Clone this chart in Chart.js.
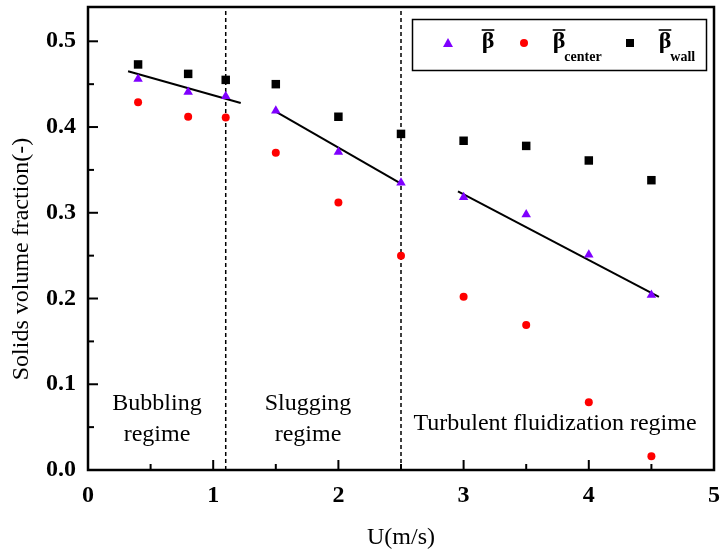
<!DOCTYPE html>
<html>
<head>
<meta charset="utf-8">
<script src="https://cdn.jsdelivr.net/npm/chart.js@4/dist/chart.umd.min.js"></script>
<style>
  html, body { margin: 0; padding: 0; background: #fff; }
</style>
</head>
<body>
<canvas id="chart" width="725" height="557"></canvas>
<script>
// superficial gas velocity U (m/s)
const velocity = [0.4, 0.8, 1.1, 1.5, 2.0, 2.5, 3.0, 3.5, 4.0, 4.5];
// cross-section averaged solids fraction
const betaMean = [0.456, 0.441, 0.436, 0.419, 0.371, 0.335, 0.318, 0.298, 0.251, 0.204];
const betaCenter = [0.429, 0.412, 0.411, 0.370, 0.312, 0.250, 0.202, 0.169, 0.079, 0.016];
const betaWall = [0.473, 0.462, 0.455, 0.450, 0.412, 0.392, 0.384, 0.378, 0.361, 0.338];

// linear fits per regime (end points)
const fitBubblingX = [0.32, 1.22];
const fitBubblingY = [0.465, 0.428];
const fitSluggingX = [1.5, 2.5];
const fitSluggingY = [0.418, 0.334];
const fitTurbulentX = [2.955, 4.56];
const fitTurbulentY = [0.325, 0.202];

// regime boundaries
const boundaryX = [1.1, 2.5];

const xTicks = [0, 1, 2, 3, 4, 5];
const yTicks = [0.0, 0.1, 0.2, 0.3, 0.4, 0.5];

const SERIF = "'Liberation Serif', 'Times New Roman', serif";

function pts(xs, ys) {
  return xs.map((x, i) => ({ x: x, y: ys[i] }));
}

function fitLine(xs, ys) {
  return {
    type: "line",
    data: pts(xs, ys),
    borderColor: "#000",
    borderWidth: 2,
    pointRadius: 0,
    fill: false,
    showLine: true,
  };
}

function boundaryLine(x) {
  return {
    type: "line",
    data: [{ x: x, y: 0 }, { x: x, y: 0.54 }],
    borderColor: "#000",
    borderWidth: 1.5,
    borderDash: [4, 3],
    pointRadius: 0,
    fill: false,
    showLine: true,
  };
}

// inward ticks, frame, y title, regime labels and the legend
const decorPlugin = {
  id: "decor",
  afterDraw(chart) {
    const ctx = chart.ctx;
    const { left, right, top, bottom } = chart.chartArea;
    const xs = chart.scales.x;
    const ys = chart.scales.y;
    ctx.save();

    // ticks
    ctx.strokeStyle = "#000";
    ctx.lineWidth = 2;
    for (let i = 0; i <= 10; i++) {
      const v = i * 0.5;
      const px = xs.getPixelForValue(v);
      const len = i % 2 === 0 ? 10 : 6;
      ctx.beginPath();
      ctx.moveTo(px, bottom);
      ctx.lineTo(px, bottom - len);
      ctx.stroke();
    }
    for (let i = 0; i <= 10; i++) {
      const v = i * 0.05;
      const py = ys.getPixelForValue(v);
      const len = i % 2 === 0 ? 10 : 6;
      ctx.beginPath();
      ctx.moveTo(left, py);
      ctx.lineTo(left + len, py);
      ctx.stroke();
    }

    // frame
    ctx.lineWidth = 2.5;
    ctx.strokeRect(left, top, right - left, bottom - top);

    // y axis title
    ctx.fillStyle = "#000";
    ctx.save();
    ctx.translate(22, 259);
    ctx.rotate(-Math.PI / 2);
    ctx.font = "24px " + SERIF;
    ctx.textAlign = "center";
    ctx.textBaseline = "middle";
    ctx.fillText("Solids volume fraction(-)", 0, 0);
    ctx.restore();

    // regime labels
    ctx.font = "24px " + SERIF;
    ctx.textAlign = "center";
    ctx.textBaseline = "alphabetic";
    ctx.fillText("Bubbling", 157, 410);
    ctx.fillText("regime", 157, 441);
    ctx.fillText("Slugging", 308, 410);
    ctx.fillText("regime", 308, 441);
    ctx.fillText("Turbulent fluidization regime", 555, 430);

    // legend
    ctx.lineWidth = 1.5;
    ctx.strokeRect(412.5, 19.5, 294, 51);
    const my = 43;
    // triangle
    ctx.fillStyle = "#7f00ff";
    ctx.beginPath();
    ctx.moveTo(448, my - 5);
    ctx.lineTo(453, my + 4);
    ctx.lineTo(443, my + 4);
    ctx.closePath();
    ctx.fill();
    // circle
    ctx.fillStyle = "#ff0000";
    ctx.beginPath();
    ctx.arc(524, my, 4, 0, Math.PI * 2);
    ctx.fill();
    // square
    ctx.fillStyle = "#000";
    ctx.fillRect(626, my - 4, 8, 8);

    function betaBar(cx, sub) {
      ctx.fillStyle = "#000";
      ctx.font = "bold 24px " + SERIF;
      ctx.textAlign = "center";
      ctx.textBaseline = "alphabetic";
      ctx.fillText("\u03b2", cx, 48);
      const w = ctx.measureText("\u03b2").width;
      ctx.lineWidth = 1.6;
      ctx.beginPath();
      ctx.moveTo(cx - w / 2, 30);
      ctx.lineTo(cx + w / 2, 30);
      ctx.stroke();
      if (sub) {
        ctx.font = "bold 14px " + SERIF;
        ctx.textAlign = "left";
        ctx.fillText(sub, cx + w / 2 - 1, 61);
      }
    }
    betaBar(488, null);
    betaBar(559, "center");
    betaBar(665, "wall");

    ctx.restore();
  },
};

new Chart(document.getElementById("chart"), {
  type: "scatter",
  data: {
    datasets: [
      {
        label: "beta",
        data: pts(velocity, betaMean),
        pointStyle: "triangle",
        pointRadius: 5.5,
        backgroundColor: "#7f00ff",
        borderColor: "#7f00ff",
        borderWidth: 0,
      },
      {
        label: "beta center",
        data: pts(velocity, betaCenter),
        pointStyle: "circle",
        pointRadius: 4,
        backgroundColor: "#ff0000",
        borderColor: "#ff0000",
        borderWidth: 0,
      },
      {
        label: "beta wall",
        data: pts(velocity, betaWall),
        pointStyle: "rect",
        pointRadius: 6,
        backgroundColor: "#000",
        borderColor: "#000",
        borderWidth: 0,
      },
      fitLine(fitBubblingX, fitBubblingY),
      fitLine(fitSluggingX, fitSluggingY),
      fitLine(fitTurbulentX, fitTurbulentY),
      boundaryLine(boundaryX[0]),
      boundaryLine(boundaryX[1]),
    ],
  },
  options: {
    responsive: false,
    animation: false,
    layout: { padding: { top: 7, right: 11, left: 0, bottom: 0 } },
    plugins: {
      legend: { display: false },
      tooltip: { enabled: false },
    },
    scales: {
      x: {
        type: "linear",
        min: 0,
        max: 5,
        afterBuildTicks: (scale) => {
          scale.ticks = xTicks.map((v) => ({ value: v }));
        },
        afterFit: (scale) => {
          scale.height = 87;
          scale.paddingLeft = 0;
          scale.paddingRight = 0;
        },
        grid: { display: false },
        border: { display: false },
        ticks: {
          color: "#000",
          padding: 3,
          font: { family: SERIF, size: 24, weight: "bold" },
          callback: (v) => String(v),
        },
        title: {
          display: true,
          text: "U(m/s)",
          color: "#000",
          padding: { bottom: 5 },
          font: { family: SERIF, size: 24 },
        },
      },
      y: {
        type: "linear",
        min: 0,
        max: 0.54,
        afterBuildTicks: (scale) => {
          scale.ticks = yTicks.map((v) => ({ value: v }));
        },
        afterFit: (scale) => {
          scale.width = 88;
          scale.paddingTop = 0;
          scale.paddingBottom = 0;
        },
        grid: { display: false },
        border: { display: false },
        ticks: {
          color: "#000",
          padding: 4,
          font: { family: SERIF, size: 24, weight: "bold" },
          callback: (v) => v.toFixed(1),
        },
      },
    },
  },
  plugins: [decorPlugin],
});
</script>
</body>
</html>
